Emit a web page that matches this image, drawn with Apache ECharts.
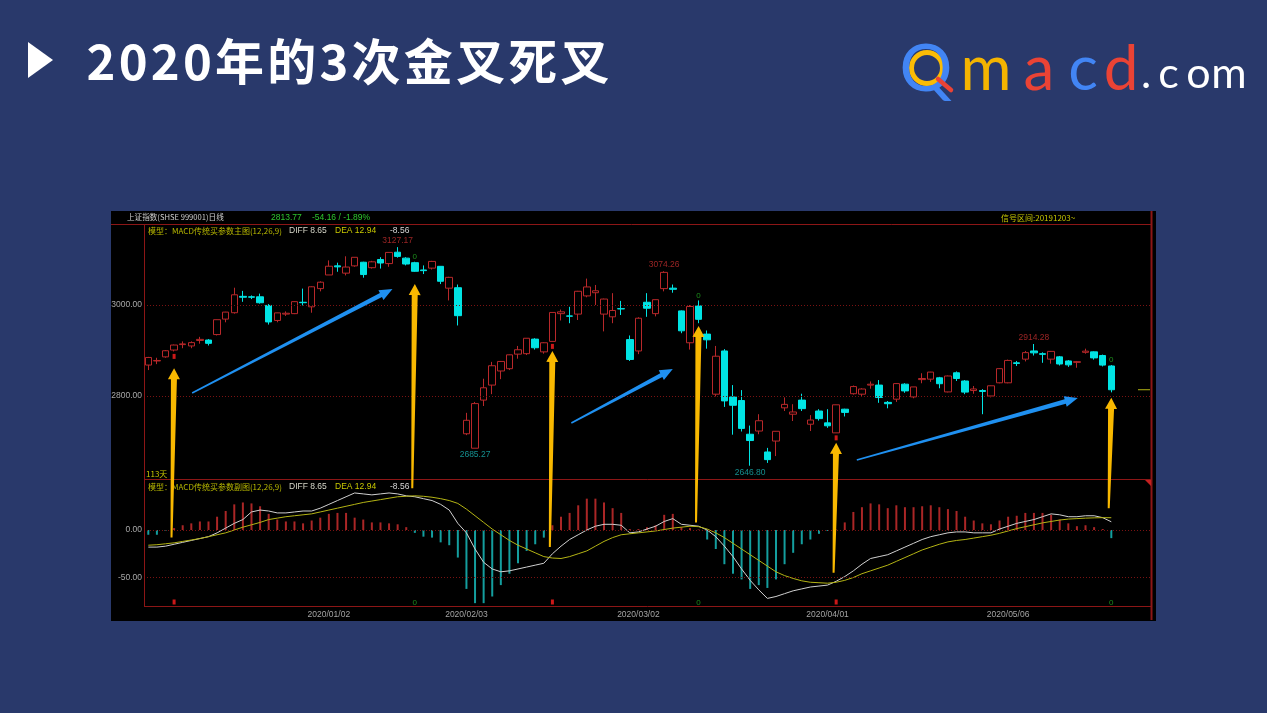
<!DOCTYPE html>
<html>
<head>
<meta charset="utf-8">
<script src="https://cdn.jsdelivr.net/npm/echarts@6/dist/echarts.min.js"></script>
<style>
html,body{margin:0;padding:0;background:#29396b;}
#c{width:1267px;height:713px;}
</style>
</head>
<body>
<div id="c"></div>
<script>
// 上证指数 daily bars, 2019/12/03 – 2020/05/22 (113 trading days)
const dates = [
'2019/12/03','2019/12/04','2019/12/05','2019/12/06','2019/12/09','2019/12/10','2019/12/11','2019/12/12','2019/12/13','2019/12/16','2019/12/17','2019/12/18','2019/12/19','2019/12/20','2019/12/23','2019/12/24','2019/12/25','2019/12/26','2019/12/27','2019/12/30','2019/12/31',
'2020/01/02','2020/01/03','2020/01/06','2020/01/07','2020/01/08','2020/01/09','2020/01/10','2020/01/13','2020/01/14','2020/01/15','2020/01/16','2020/01/17','2020/01/20','2020/01/21','2020/01/22','2020/01/23',
'2020/02/03','2020/02/04','2020/02/05','2020/02/06','2020/02/07','2020/02/10','2020/02/11','2020/02/12','2020/02/13','2020/02/14','2020/02/17','2020/02/18','2020/02/19','2020/02/20','2020/02/21','2020/02/24','2020/02/25','2020/02/26','2020/02/27','2020/02/28',
'2020/03/02','2020/03/03','2020/03/04','2020/03/05','2020/03/06','2020/03/09','2020/03/10','2020/03/11','2020/03/12','2020/03/13','2020/03/16','2020/03/17','2020/03/18','2020/03/19','2020/03/20','2020/03/23','2020/03/24','2020/03/25','2020/03/26','2020/03/27','2020/03/30','2020/03/31',
'2020/04/01','2020/04/02','2020/04/03','2020/04/07','2020/04/08','2020/04/09','2020/04/10','2020/04/13','2020/04/14','2020/04/15','2020/04/16','2020/04/17','2020/04/20','2020/04/21','2020/04/22','2020/04/23','2020/04/24','2020/04/27','2020/04/28','2020/04/29','2020/04/30',
'2020/05/06','2020/05/07','2020/05/08','2020/05/11','2020/05/12','2020/05/13','2020/05/14','2020/05/15','2020/05/18','2020/05/19','2020/05/20','2020/05/21','2020/05/22'];

const openP = [
2868,2877,2886,2901,2913,2910,2922,2923,2935,2969,2983,3019,3018,3018,2999,2966,2980,2981,3006,2996,3036,
3066,3086,3070,3086,3094,3082,3100,3091,3116,3103,3093,3077,3081,3085,3037,3038,
2717,2685.27,2791,2824,2855,2860,2892,2893,2925,2897,2920,2981,2976,2980,3020,3027,2980,2974,2992,2924,
2899,3006,2981,3036,3037,2987,2917,2998,2936,2804,2899,2798,2790,2716,2723,2677,2701,2774,2760,2791,2738,2767,
2741,2719,2771,2805,2804,2824,2824,2786,2793,2826,2798,2836,2837,2840,2809,2851,2833,2812,2812,2800,2829,
2829,2873,2881,2899,2893,2881,2886,2877,2874,2896,2897,2889,2866];

const closeP = [
2884.70,2878.12,2899.47,2912.01,2914.48,2917.32,2924.42,2915.70,2967.68,2984.39,3022.42,3017.04,3017.07,3004.94,2962.75,2982.68,2981.88,3007.35,3005.04,3040.02,3050.12,
3085.20,3083.79,3083.41,3104.80,3066.89,3094.88,3092.29,3115.57,3106.82,3090.04,3074.08,3075.50,3095.79,3052.14,3060.75,2976.53,
2746.61,2783.29,2818.09,2866.51,2875.96,2890.49,2901.67,2926.90,2906.07,2917.01,2983.62,2984.97,2975.40,3030.15,3039.67,3031.23,3013.05,2987.93,2991.33,2880.30,
2970.93,2992.90,3011.67,3071.68,3034.51,2943.29,2996.76,2968.52,2923.49,2887.43,2789.25,2779.64,2728.76,2702.13,2745.62,2660.17,2722.44,2781.59,2764.91,2772.20,2747.21,2750.30,
2734.52,2780.64,2763.99,2820.76,2815.37,2825.90,2796.63,2783.05,2827.28,2811.17,2819.94,2838.49,2852.55,2827.01,2843.98,2838.50,2808.53,2815.49,2810.02,2822.44,2860.08,
2878.14,2871.52,2895.34,2894.80,2891.56,2898.05,2870.34,2868.46,2875.42,2898.58,2883.74,2867.92,2813.77];

const lowP = [
2857,2870,2884,2898,2905,2905,2915,2911,2933,2962,2981,3007,3013,3003,2957,2962,2976,2980,2999,2983,3030,
3066,3073,3065,3084,3060,3080,3080,3084,3104,3087,3073,3068,3078,3046,3010,2955,
2714,2685.27,2778,2804,2837,2857,2882,2890,2902,2893,2920,2966,2960,2967,3017,3000,2942,2960,2978,2877,
2892,2974,2975,3030,3027,2938,2902,2960,2904,2799,2776,2715,2722,2646.80,2716,2653,2668,2767,2745,2767,2723,2746,
2730,2719,2755,2803,2799,2816,2785,2773,2787,2807,2795,2828,2831,2817,2808,2833,2804,2805,2760,2797,2828,
2828,2866,2876,2889,2873,2871,2867,2864,2862,2893,2880,2865,2808];

const highP = [
2886,2884,2901,2913,2920,2920,2930,2925,2968,2985,3038,3031,3021,3025,3002,2983,2986,3008,3036,3041,3052,
3098,3093,3107,3105,3095,3097,3105,3116,3127.17,3105,3095,3087,3097,3085,3062,3045,
2763,2787,2838,2875,2877,2891,2910,2927,2927,2918,2984,2990,2996,3031,3058,3044,3014,3026,3009,2933,
2973,3026,3012,3074.26,3045,2988,3000,3010,2944,2910,2903,2824,2813,2735,2760,2686,2723,2797,2782,2805,2758,2771,
2771,2781,2772,2823,2817,2832,2835,2789,2828,2828,2820,2850,2853,2842,2845,2854,2835,2822,2815,2823,2861,
2880,2877,2899,2914.28,2896,2899,2888,2879,2877,2904,2898,2891,2868];

// MACD(12,26,9)
const diffLine = [
-18,-18,-17,-15,-13,-11,-9,-7,-3,2,7,11,19,21,20,18,18,19,20,20,23,
27,31,35,39,38,37,38,39,38,36,35,33,31,27,21,7,
-3,-20,-34,-41,-44,-43,-41,-39,-37,-35,-25,-17,-10,-5,0,4,6,6,5,-3,
-2,1,4,9,12,6,5,4,0,-7,-17,-28,-41,-53,-63,-72,-70,-67,-64,-62,-60,-59,
-58,-54,-49,-43,-36,-30,-28,-26,-22,-18,-14,-10,-7,-5,-3,-2,-2,-3,-3,-3,1,
4,7,9,11,14,17,16,14,14,15,15,13,8.65];

const deaLine = [
-16,-15.5,-14.5,-13.5,-12,-10.5,-9,-7,-5,-3,0,3,5.5,8,11,12.5,14,15,16,17,19,
21,23,25,27,29,30.5,32,33.5,35,35.5,36,35.5,34.5,33,31,28,
22,15,8,1,-5,-11,-16,-20,-24,-28,-29.5,-30,-28,-25,-22,-17,-12,-8,-5,-4,
-3,-2,-1,0.5,2,3,4,3.5,1,-3,-8,-14,-20,-26,-32,-38,-44,-48,-51,-53.5,-55,-55.5,
-56,-55,-53,-50,-46,-43,-40,-37,-33,-29,-25,-21,-18,-15,-12.5,-11,-10,-8.5,-7,-5.5,-3.5,
-1,1.5,3.5,5.5,7.5,9,10.5,11.5,12,12.5,12.8,13,12.94];

const macdBar = [
-5,-5,-1,2,5,7,9,9,14,20,27,29,28,25,17,11,9,9,7,10,13,
17,18,18,13,11,8,8,7,6,3,-3,-7,-8,-13,-16,-29,
-62,-77,-77,-70,-58,-46,-35,-22,-15,-8,5,14,18,26,33,33,29,23,18,1,
1,3,5,16,17,3,2,0.5,-10,-20,-36,-46,-52,-62,-58,-61,-52,-36,-24,-15,-10,-4,
-1,0.5,8,19,24,28,27,23,26,24,24,25,26,24,22,20,14,10,7,6,10,
14,15,18,18,18,16,11,7,4,5,3,1,-8.56];

// signal days: golden crosses and death crosses
const goldenCross = [3, 47, 80];
const deathCross = [31, 64, 112];
const peakDays = [29, 60, 103];
const troughDays = [38, 70];

const priceTicks = [2800, 3000];
const macdTicks = [-50, 0];
const dateTicks = ['2020/01/02', '2020/02/03', '2020/03/02', '2020/04/01', '2020/05/06'];

// callout arrows: signal day, price at the head, MACD value at the tail
const signalDays = [3, 31, 47, 64, 80, 112];
const signalHeadPrice = [2861, 3046, 2899, 2954, 2697, 2796];
const signalTailMacd = [-8, 44, -18, 8, -45, 23];
// trend arrows: [day, price] from -> to
const trendFrom = [[5.1, 2806.6], [49.2, 2740.7], [82.4, 2659.3]];
const trendTo = [[28.4, 3035], [61.0, 2859.3], [108.1, 2795.6]];

const RED_LINE = '#8c1616';
const CN = '"Noto Sans CJK SC"';
const TITLE = '2020年的3次金叉死叉';

function txt(text, x, y, fill, size, family, extra) {
  return Object.assign({
    type: 'text', x: x, y: y, z: 60,
    style: { text: text, fill: fill, font: (size || 8) + 'px ' + (family || CN), verticalAlign: 'middle', align: 'left' }
  }, extra || {});
}
function hline(x1, x2, y, color, w) {
  return { type: 'line', z: 50, shape: { x1: x1, y1: y, x2: x2, y2: y }, style: { stroke: color, lineWidth: w || 1 } };
}
function vline(x, y1, y2, color, w) {
  return { type: 'line', z: 50, shape: { x1: x, y1: y1, x2: x, y2: y2 }, style: { stroke: color, lineWidth: w || 1 } };
}
function logoLetter(ch, x, y, fill, size) {
  return { type: 'text', x: x, y: y, z: 61, style: { text: ch, fill: fill, font: size + 'px Lato', verticalAlign: 'middle', align: 'center' } };
}

const staticGraphics = [
  // chart panel
  { type: 'rect', z: 0, shape: { x: 111, y: 211, width: 1045, height: 410 }, style: { fill: '#000000' } },
  hline(111, 1152, 224.5, RED_LINE),
  vline(144.5, 224, 607, RED_LINE),
  hline(144, 1151, 479.5, RED_LINE),
  hline(144, 1151, 606.5, RED_LINE),
  vline(1151.5, 211, 620, RED_LINE, 2),
  { type: 'polygon', z: 55, shape: { points: [[1145, 480], [1151, 480], [1151, 486]] }, style: { fill: '#c42020' } },
  // header
  txt('上证指数(SHSE 999001)日线', 127, 217.5, '#cfcfcf', 7.6),
  txt('2813.77', 271, 217.5, '#2ec82e', 8.5, '"Liberation Sans"'),
  txt('-54.16 / -1.89%', 312, 217.5, '#2ec82e', 8.5, '"Liberation Sans"'),
  txt('信号区间:20191203~', 1001, 218, '#c8c800', 8),
  // main legend
  txt('模型：MACD传统买参数主图(12,26,9)', 148, 231, '#b8b800', 8),
  txt('DIFF 8.65', 289, 231, '#d6d6c8', 8.5, '"Liberation Sans"'),
  txt('DEA 12.94', 335, 231, '#c8c800', 8.5, '"Liberation Sans"'),
  txt('-8.56', 390, 231, '#d6d6d6', 8.5, '"Liberation Sans"'),
  txt('113天', 146, 473.5, '#c8c800', 8),
  // sub legend
  txt('模型：MACD传统买参数副图(12,26,9)', 148, 486.5, '#b8b800', 8),
  txt('DIFF 8.65', 289, 486.5, '#d6d6c8', 8.5, '"Liberation Sans"'),
  txt('DEA 12.94', 335, 486.5, '#c8c800', 8.5, '"Liberation Sans"'),
  txt('-8.56', 390, 486.5, '#d6d6d6', 8.5, '"Liberation Sans"'),
  // slide title
  { type: 'polygon', z: 60, shape: { points: [[28, 42], [53, 60], [28, 78]] }, style: { fill: '#ffffff' } },
  {
    type: 'text', x: 85, y: 61, z: 60,
    style: {
      text: TITLE.split('').map(ch => '{c|' + ch + '}').join(''),
      verticalAlign: 'middle', align: 'left',
      rich: { c: { fill: '#ffffff', font: 'bold 49px ' + CN, padding: [0, 1.6, 0, 1.6] } }
    }
  },
  // logo
  { type: 'ring', z: 60, shape: { cx: 927, cy: 68, r: 18, r0: 13 }, style: { fill: '#fbbc05' } },
  logoLetter('Q', 926, 70, '#4285f4', 66),
  { type: 'line', z: 62, shape: { x1: 938, y1: 79, x2: 951, y2: 90 }, style: { stroke: '#ea4335', lineWidth: 4.5, lineCap: 'round' } },
  logoLetter('m', 986, 70, '#f4b400', 62),
  logoLetter('a', 1039, 70, '#ea4335', 62),
  logoLetter('c', 1083, 70, '#4285f4', 62),
  logoLetter('d', 1121, 70, '#ea4335', 62),
  logoLetter('.', 1146, 74, '#ffffff', 43),
  logoLetter('c', 1168.5, 74, '#ffffff', 43),
  logoLetter('o', 1198.5, 74, '#ffffff', 43),
  logoLetter('m', 1229, 74, '#ffffff', 43)
];

const chart = echarts.init(document.getElementById('c'));

const candles = dates.map((d, i) => [openP[i], closeP[i], lowP[i], highP[i]]);
const hidden = { color: 'rgba(0,0,0,0)' };

chart.setOption({
  animation: false,
  backgroundColor: '#29396b',
  grid: [
    { left: 144, top: 224, width: 1006, height: 255 },
    { left: 144, top: 479, width: 1006, height: 127 }
  ],
  xAxis: [
    { type: 'category', gridIndex: 0, data: dates, max: 116, show: false },
    {
      type: 'category', gridIndex: 1, data: dates, max: 116,
      axisLine: { show: false }, axisTick: { show: false }, splitLine: { show: false },
      axisLabel: {
        interval: (i, v) => dateTicks.includes(v),
        color: '#a4a4a4', fontSize: 8.5, fontFamily: 'Liberation Sans', margin: 4
      }
    }
  ],
  yAxis: [
    {
      type: 'value', gridIndex: 0, min: 2617.6, max: 3178,
      axisLine: { show: false }, axisTick: { show: false }, splitLine: { show: false },
      axisLabel: { customValues: priceTicks, formatter: v => v.toFixed(2), color: '#a8a8a8', fontSize: 8.5, fontFamily: 'Liberation Sans', margin: 2 }
    },
    {
      type: 'value', gridIndex: 1, min: -80, max: 53.7,
      axisLine: { show: false }, axisTick: { show: false }, splitLine: { show: false },
      axisLabel: { customValues: macdTicks, formatter: v => v.toFixed(2), color: '#a8a8a8', fontSize: 8.5, fontFamily: 'Liberation Sans', margin: 2 }
    }
  ],
  graphic: { elements: staticGraphics },
  series: [
    {
      type: 'candlestick', xAxisIndex: 0, yAxisIndex: 0, z: 3,
      data: candles, barWidth: 7,
      itemStyle: { color: '#000000', color0: '#00e4e4', borderColor: '#b8282a', borderColor0: '#00e4e4', borderWidth: 1 },
      markLine: {
        silent: true, symbol: ['none', 'none'], label: { show: false },
        lineStyle: { color: '#7a1212', type: [1, 2], width: 1 },
        data: priceTicks.map(v => ({ yAxis: v }))
      }
    },
    {
      type: 'scatter', xAxisIndex: 0, yAxisIndex: 0, z: 5,
      data: goldenCross.map(i => [i, lowP[i]]),
      symbol: 'rect', symbolSize: [3, 5], symbolOffset: [0, 5],
      itemStyle: { color: '#ff1e1e' }
    },
    {
      type: 'scatter', xAxisIndex: 0, yAxisIndex: 0, z: 5,
      data: deathCross.map(i => [i, highP[i]]),
      symbolSize: 0.1, itemStyle: hidden,
      label: { show: true, position: 'top', distance: 1, formatter: '0', color: '#22b022', fontSize: 8, fontFamily: 'Liberation Sans' }
    },
    {
      type: 'scatter', xAxisIndex: 0, yAxisIndex: 0, z: 5,
      data: peakDays.map(i => [i, highP[i]]),
      symbolSize: 0.1, itemStyle: hidden,
      label: { show: true, position: 'top', distance: 2, formatter: p => p.value[1].toFixed(2), color: '#c22e2e', fontSize: 8.5, fontFamily: 'Liberation Sans' }
    },
    {
      type: 'scatter', xAxisIndex: 0, yAxisIndex: 0, z: 5,
      data: troughDays.map(i => [i, lowP[i]]),
      symbolSize: 0.1, itemStyle: hidden,
      label: { show: true, position: 'bottom', distance: 2, formatter: p => p.value[1].toFixed(2), color: '#19b2b2', fontSize: 8.5, fontFamily: 'Liberation Sans' }
    },
    {
      type: 'bar', xAxisIndex: 1, yAxisIndex: 1, z: 3,
      data: macdBar, barWidth: 2,
      itemStyle: { color: p => (p.value >= 0 ? '#aa2626' : '#149e9e') },
      markLine: {
        silent: true, symbol: ['none', 'none'], label: { show: false },
        lineStyle: { color: '#7a1212', type: [1, 2], width: 1 },
        data: macdTicks.map(v => ({ yAxis: v }))
      }
    },
    {
      type: 'line', xAxisIndex: 1, yAxisIndex: 1, z: 4,
      data: diffLine, symbol: 'none', lineStyle: { color: '#d0d0d0', width: 1 }
    },
    {
      type: 'line', xAxisIndex: 1, yAxisIndex: 1, z: 4,
      data: deaLine, symbol: 'none', lineStyle: { color: '#b4b414', width: 1 }
    },
    {
      type: 'scatter', xAxisIndex: 1, yAxisIndex: 1, z: 5,
      data: goldenCross.map(i => [i, -80]),
      symbol: 'rect', symbolSize: [3, 5], symbolOffset: [0, -4],
      itemStyle: { color: '#ff1e1e' }
    },
    {
      type: 'scatter', xAxisIndex: 1, yAxisIndex: 1, z: 5,
      data: deathCross.map(i => [i, -80]),
      symbolSize: 0.1, itemStyle: hidden,
      label: { show: true, position: 'top', distance: -1, formatter: '0', color: '#22b022', fontSize: 8, fontFamily: 'Liberation Sans' }
    }
  ]
});

// arrows and last-price tick, placed through the axes
const xa = chart.convertToPixel({ xAxisIndex: 0 }, 0);
const xb = chart.convertToPixel({ xAxisIndex: 0 }, 1);
const xOf = i => xa + (xb - xa) * i;
const yPrice = v => chart.convertToPixel({ yAxisIndex: 0 }, v);
const yMacd = v => chart.convertToPixel({ yAxisIndex: 1 }, v);

function arrowPoints(p0, p1, w0, w1, hw, hl) {
  const dx = p1[0] - p0[0], dy = p1[1] - p0[1];
  const L = Math.hypot(dx, dy);
  const ux = dx / L, uy = dy / L, nx = -uy, ny = ux;
  const bx = p1[0] - ux * hl, by = p1[1] - uy * hl;
  return [
    [p0[0] + nx * w0 / 2, p0[1] + ny * w0 / 2],
    [bx + nx * w1 / 2, by + ny * w1 / 2],
    [bx + nx * hw / 2, by + ny * hw / 2],
    [p1[0], p1[1]],
    [bx - nx * hw / 2, by - ny * hw / 2],
    [bx - nx * w1 / 2, by - ny * w1 / 2],
    [p0[0] - nx * w0 / 2, p0[1] - ny * w0 / 2]
  ];
}

const arrowGraphics = [];
signalDays.forEach((d, k) => {
  const head = [xOf(d), yPrice(signalHeadPrice[k])];
  const tail = [xOf(d - 0.3), yMacd(signalTailMacd[k])];
  arrowGraphics.push({ type: 'polygon', z: 80, shape: { points: arrowPoints(tail, head, 2, 6, 12, 11) }, style: { fill: '#f8b800' } });
});
trendFrom.forEach((f, k) => {
  const t = trendTo[k];
  const p0 = [xOf(f[0]), yPrice(f[1])];
  const p1 = [xOf(t[0]), yPrice(t[1])];
  arrowGraphics.push({ type: 'polygon', z: 80, shape: { points: arrowPoints(p0, p1, 1.5, 4.5, 11, 13) }, style: { fill: '#1f90f0' } });
});
const lastY = yPrice(closeP[closeP.length - 1]);
arrowGraphics.push(hline(1138, 1150, lastY, '#b4b414'));

chart.setOption({ graphic: { elements: staticGraphics.concat(arrowGraphics) } });
</script>
</body>
</html>
